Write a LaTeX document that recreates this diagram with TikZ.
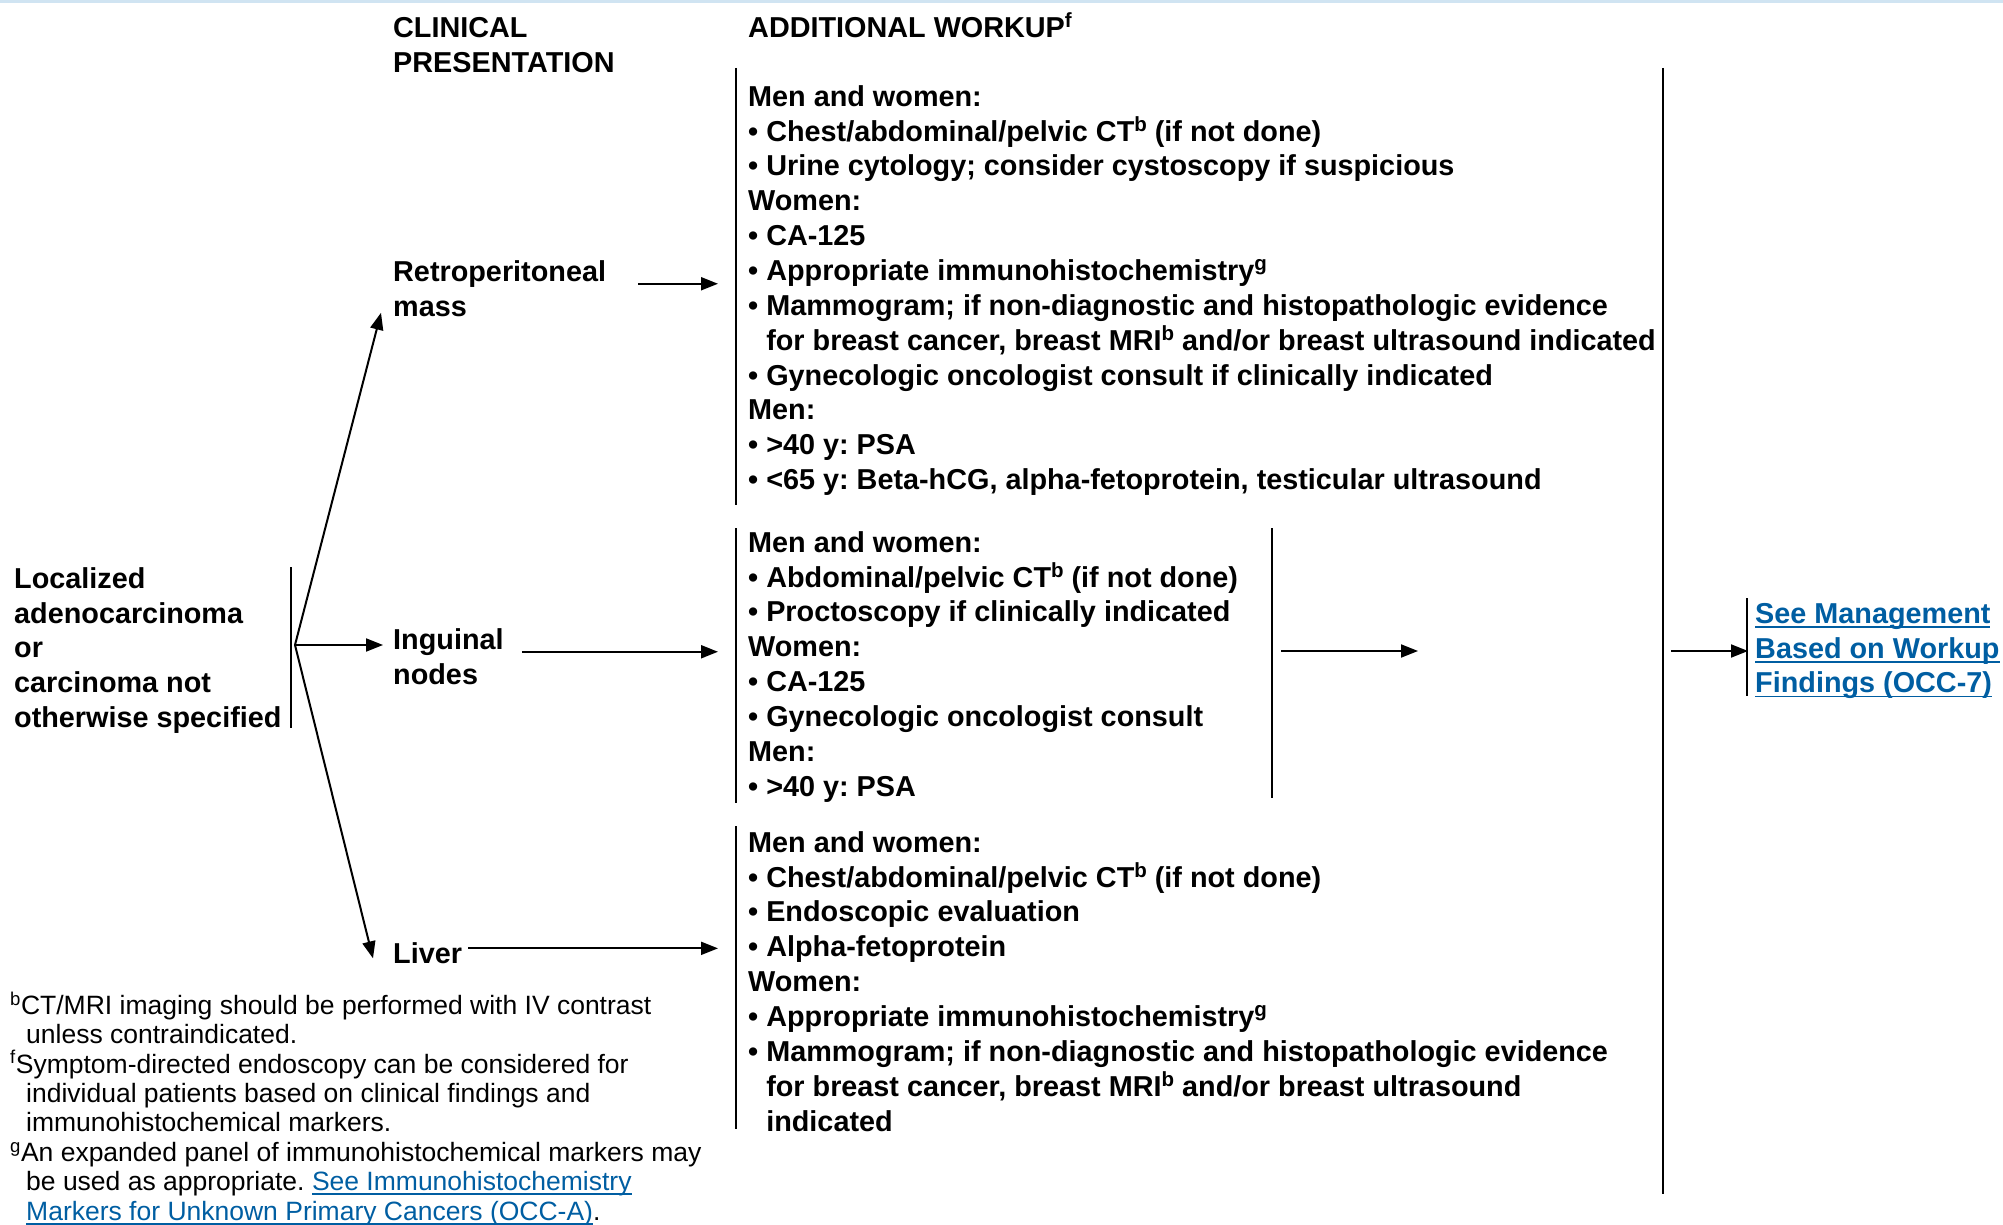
\documentclass[tikz,border=0pt]{standalone}
\usepackage{fontspec}
\setmainfont{Liberation Sans}
\usetikzlibrary{arrows.meta}
\definecolor{linkblue}{RGB}{0,94,162}
\definecolor{rulecol}{RGB}{208,228,242}
\frenchspacing
% strut fixing the top of every text block 30pt above its first baseline
\newcommand{\fstrut}{\rule{0pt}{30pt}}
% indent of a bullet's continuation line
\newcommand{\hang}{\phantom{• }}
% footnote reference mark in the bold blocks
\newcommand{\fref}[1]{\raisebox{9.5pt}{\fontsize{20.5}{20.5}\selectfont #1}}
% underlined hyperlink-style text
\newcommand{\lnk}[1]{\textcolor{linkblue}{\setbox0\hbox{#1}\rlap{\rule[-4.5pt]{\wd0}{1.8pt}}\box0}}
\tikzset{
  txt/.style={font=\fontsize{28.8}{34.85}\selectfont\bfseries, align=left, inner sep=0pt, anchor=north west},
  note/.style={font=\fontsize{26.5}{29.4}\selectfont, align=left, inner sep=0pt, anchor=north west},
  bar/.style={line width=2.6pt},
  arr/.style={line width=2pt, -{Triangle[length=17pt,width=13pt]}},
}
\begin{document}
\begin{tikzpicture}[x=1pt,y=-1pt]
\useasboundingbox (0,0) rectangle (2003,1225);
\draw[rulecol, line width=3pt] (0,1.5) -- (2003,1.5);

% column heads
\node[txt] (hclin) at (393,7) {\fstrut CLINICAL\\PRESENTATION};
\node[txt] (hwork) at (748,7) {\fstrut ADDITIONAL WORKUP\fref{f}};

% starting point
\node[txt] (root) at (14,558) {\fstrut Localized\\adenocarcinoma\\or\\carcinoma not\\otherwise specified};

% clinical presentations
\node[txt] (retro) at (393,251) {\fstrut Retroperitoneal\\mass};
\node[txt] (ing) at (393,619) {\fstrut Inguinal\\nodes};
\node[txt] (liver) at (393,933) {\fstrut Liver};

% workup blocks
\node[txt] (w1) at (748,76) {\fstrut Men and women:\\
• Chest/abdominal/pelvic CT\fref{b} (if not done)\\
• Urine cytology; consider cystoscopy if suspicious\\
Women:\\
• CA-125\\
• Appropriate immunohistochemistry\fref{g}\\
• Mammogram; if non-diagnostic and histopathologic evidence\\
\hang for breast cancer, breast MRI\fref{b} and/or breast ultrasound indicated\\
• Gynecologic oncologist consult if clinically indicated\\
Men:\\
• >40 y: PSA\\
• <65 y: Beta-hCG, alpha-fetoprotein, testicular ultrasound};

\node[txt] (w2) at (748,522) {\fstrut Men and women:\\
• Abdominal/pelvic CT\fref{b} (if not done)\\
• Proctoscopy if clinically indicated\\
Women:\\
• CA-125\\
• Gynecologic oncologist consult\\
Men:\\
• >40 y: PSA};

\node[txt] (w3) at (748,822) {\fstrut Men and women:\\
• Chest/abdominal/pelvic CT\fref{b} (if not done)\\
• Endoscopic evaluation\\
• Alpha-fetoprotein\\
Women:\\
• Appropriate immunohistochemistry\fref{g}\\
• Mammogram; if non-diagnostic and histopathologic evidence\\
\hang for breast cancer, breast MRI\fref{b} and/or breast ultrasound\\
\hang indicated};

% next step
\node[txt] (next) at (1755,593) {\fstrut\lnk{See Management}\\\lnk{Based on Workup}\\\lnk{Findings (OCC-7)}};

% footnotes
\node[note] (notes) at (10,984) {\fstrut\textsuperscript{b}CT/MRI imaging should be performed with IV contrast\\
\hspace*{16pt}unless contraindicated.\\
\textsuperscript{f}Symptom-directed endoscopy can be considered for\\
\hspace*{16pt}individual patients based on clinical findings and\\
\hspace*{16pt}immunohistochemical markers.\\
\textsuperscript{g}An expanded panel of immunohistochemical markers may\\
\hspace*{16pt}be used as appropriate. \lnk{See Immunohistochemistry}\\
\hspace*{16pt}\lnk{Markers for Unknown Primary Cancers (OCC-A)}.};

% bracket lines
\draw[bar] (291,567) -- (291,728);
\draw[bar] (736,68) -- (736,505);
\draw[bar] (736,528) -- (736,803);
\draw[bar] (1272,528) -- (1272,798);
\draw[bar] (736,826) -- (736,1129);
\draw[bar] (1663,68) -- (1663,1194);
\draw[bar] (1747,598) -- (1747,696);

% branch points and free ends
\coordinate (fork) at (295,645);
\coordinate (tipR) at ([xshift=-12pt,yshift=-29pt]retro.west);
\coordinate (tipL) at ([xshift=-20pt,yshift=-10pt]liver.west);
\coordinate (w2out) at (1281,651);
\coordinate (w2end) at (1418,651);
\coordinate (allout) at (1671,651);

% connectors
\draw[arr] (fork) -- (tipR);
\draw[arr, shorten >=10pt] (fork) -- (fork -| ing.west);
\draw[arr] (fork) -- (tipL);
\draw[arr, yshift=-3pt, shorten <=32pt, shorten >=30pt] (retro.east) -- (retro.east -| w1.west);
\draw[arr, yshift=1pt, shorten <=18pt, shorten >=30pt] (ing.east) -- (ing.east -| w2.west);
\draw[arr, yshift=-4pt, shorten <=6pt, shorten >=30pt] (liver.east) -- (liver.east -| w3.west);
\draw[arr] (w2out) -- (w2end);
\draw[arr, shorten >=7pt] (allout) -- (allout -| next.west);
\end{tikzpicture}
\end{document}
